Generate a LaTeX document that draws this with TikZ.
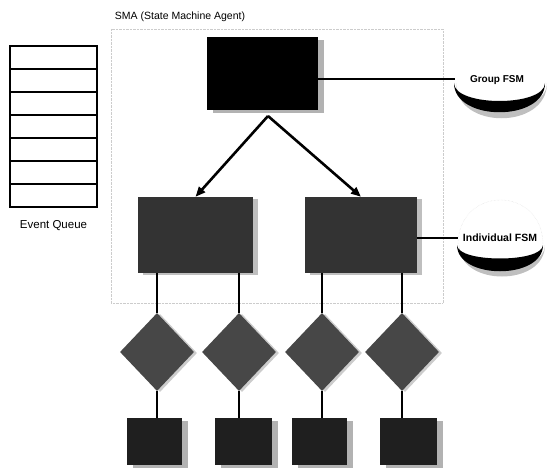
\documentclass[tikz,border=0pt]{standalone}
\usepackage{fontspec}
\setmainfont{Liberation Sans}
\usetikzlibrary{shapes.geometric,arrows.meta,positioning,calc,shadows}

\begin{document}
\begin{tikzpicture}[x=1pt, y=-1pt,
  agent/.style={rectangle, inner sep=0pt, fill=black,
                general shadow={fill=black!30, shadow xshift=6pt, shadow yshift=-3pt}},
  grp/.style={rectangle, inner sep=0pt, fill=black!80, minimum height=76pt,
              general shadow={fill=black!25, shadow xshift=5pt, shadow yshift=-2pt}},
  decide/.style={diamond, inner sep=0pt, fill=black!72, minimum width=74pt,
                 minimum height=78pt,
                 general shadow={fill=black!20, shadow xshift=3pt, shadow yshift=-1pt}},
  leaf/.style={rectangle, inner sep=0pt, fill=black!88, minimum height=47pt,
               general shadow={fill=black!30, shadow xshift=6pt, shadow yshift=-3pt}},
  qrow/.style={rectangle, draw=black, line width=1.5pt, fill=white,
               minimum width=87pt, minimum height=23pt, inner sep=0pt},
  label/.style={font=\fontsize{10}{12}\selectfont\bfseries},
  link/.style={draw, line width=1.6pt},
  arrow/.style={draw, line width=2.6pt, -{Triangle[length=10pt,width=8pt]}},
]
  \useasboundingbox (0,0) rectangle (548,468);

  % SMA frame and title
  \node[font=\fontsize{10.5}{12}\selectfont] (title) at (180,17) {SMA (State Machine Agent)};
  \draw[black!20, densely dotted] (111,29) rectangle (443,303);

  % Event queue
  \foreach \i in {1,...,7}
    \node[qrow] (q\i) at (53.5, {34.5+23*\i}) {};
  \node[font=\fontsize{11.5}{13}\selectfont, below=9pt of q7] (eq) {Event Queue};

  % Top agent
  \node[agent, minimum width=111pt, minimum height=73pt] (top) at (262.5,73.5) {};
  \coordinate (apex) at (268,116);

  % Group agents
  \node[grp, minimum width=115pt] (gA) at (195.5,235) {};
  \node[grp, minimum width=112pt] (gB) at (361,235) {};
  \draw[arrow] (apex) -- (gA.north);
  \draw[arrow] (apex) -- (gB.north);

  % Decisions
  \node[decide] (dA) at (157,352) {};
  \node[decide] (dB) at (239,352) {};
  \node[decide] (dC) at (322,352) {};
  \node[decide] (dD) at (402,352) {};
  \draw[link] (dA.north |- gA.south) -- (dA.north);
  \draw[link] (dB.north |- gA.south) -- (dB.north);
  \draw[link] (dC.north |- gB.south) -- (dC.north);
  \draw[link] (dD.north |- gB.south) -- (dD.north);

  % Leaves
  \node[leaf, minimum width=55pt] (sA) at (154.5,441.5) {};
  \node[leaf, minimum width=57pt] (sB) at (243.5,441.5) {};
  \node[leaf, minimum width=55pt] (sC) at (319.5,441.5) {};
  \node[leaf, minimum width=57pt] (sD) at (408.5,441.5) {};
  \draw[link] (dA.south) -- (dA.south |- sA.north);
  \draw[link] (dB.south) -- (dB.south |- sB.north);
  \draw[link] (dC.south) -- (dC.south |- sC.north);
  \draw[link] (dD.south) -- (dD.south |- sD.north);

  % Group FSM
  \coordinate (gfsm) at (455,79);
  \draw[line width=2.4pt] (top.east |- gfsm) -- (gfsm);
  \fill[black!25] (456,83) .. controls (456,130) and (547,130) .. (547,83)
                   .. controls (547,118) and (456,118) .. (456,83);
  \fill[black] (454,83) .. controls (454,122) and (545,122) .. (545,83)
               .. controls (545,107) and (454,107) .. (454,83);
  \node[label] (gl) at (497,80) {Group FSM};

  % Individual FSM
  \coordinate (ifsm) at (458,238);
  \draw[line width=2.4pt] (gB.east |- ifsm) -- (ifsm);
  \draw[black!15, densely dotted] (458,245) .. controls (458,185) and (543,185) .. (543,245);
  \fill[black!25] (459,245) .. controls (459,287) and (545,287) .. (545,245)
                   .. controls (545,276) and (459,276) .. (459,245);
  \fill[black] (457,245) .. controls (457,280) and (543,280) .. (543,245)
               .. controls (543,263) and (457,263) .. (457,245);
  \node[label, font=\fontsize{10.5}{12}\selectfont\bfseries] (il) at (500,238) {Individual FSM};
\end{tikzpicture}
\end{document}
